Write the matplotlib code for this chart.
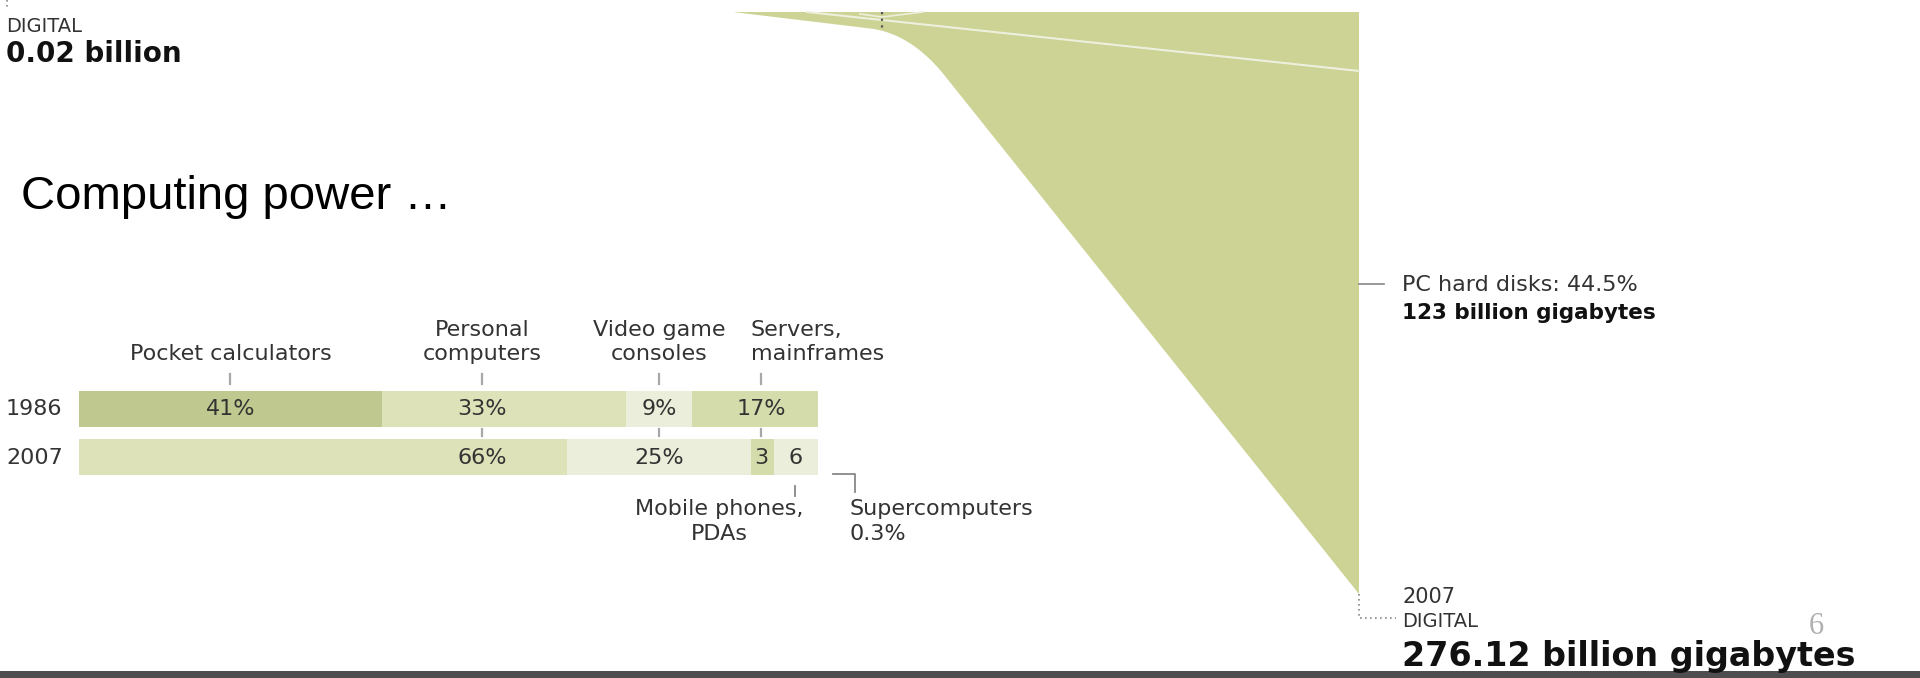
import numpy as np
import matplotlib
matplotlib.use("Agg")
import matplotlib.pyplot as plt
from matplotlib.patches import Polygon, Rectangle

# ---------------- data ----------------
years = ["1986", "2007"]
categories = ["Pocket calculators", "Personal computers", "Video game consoles",
              "Servers, mainframes", "Mobile phones, PDAs", "Supercomputers"]
share_1986 = [41, 33, 9, 17, 0, 0]
share_2007 = [0, 66, 25, 3, 6, 0.3]
seg_labels_1986 = ["41%", "33%", "9%", "17%", "", ""]
seg_labels_2007 = ["", "66%", "25%", "3", "6", ""]
label_pos = [20.5, 54.5, 78.5, 92.3, 96.9, 100.5]   # column of each category label (% of bar)
seg_colors = ["#bfc98f", "#dde2b8", "#ebeeda", "#d5dcab", "#ebeeda", "#d5dcab"]

digital_1986 = "0.02 billion"
digital_2007 = "276.12 billion gigabytes"
pc_disk_share = "PC hard disks: 44.5%"
pc_disk_value = "123 billion gigabytes"
title = "Computing power \u2026"
page_number = "6"

# flow band (tail of the storage flow diagram), in canvas pixels
flow_top_y = 12
flow_left_x = 733
flow_right_x = 1359
flow_bottom_y = 594
flow_bend = [(870, 28.5), (911, 33.4), (945, 76)]   # start, control, end of bend

W, H = 1920, 678
GFONT = "DejaVu Sans"
TCOL = "#333333"
BCOL = "#111111"
TICKC = "#a8a8a8"

fig = plt.figure(figsize=(W / 100, H / 100), dpi=100)
fig.patch.set_facecolor("white")

# ---------- overlay axes in pixel coordinates ----------
ax0 = fig.add_axes([0, 0, 1, 1])
ax0.set_xlim(0, W)
ax0.set_ylim(H, 0)
ax0.axis("off")

# flow band shape
t = np.linspace(0, 1, 40)
(p0x, p0y), (p1x, p1y), (p2x, p2y) = flow_bend
bx = (1 - t) ** 2 * p0x + 2 * (1 - t) * t * p1x + t ** 2 * p2x
by = (1 - t) ** 2 * p0y + 2 * (1 - t) * t * p1y + t ** 2 * p2y
outline = [(flow_left_x, flow_top_y), (flow_right_x, flow_top_y),
           (flow_right_x, flow_bottom_y)]
outline += list(zip(bx[::-1], by[::-1]))
ax0.add_patch(Polygon(outline, closed=True, facecolor="#ccd394", edgecolor="none"))
# thin white separators inside band
ax0.plot([807, flow_right_x], [flow_top_y, 71], color="#eef0de", lw=1.5)
ax0.plot([860, 882, 923], [14, 17, flow_top_y], color="#eef0de", lw=1.2)
# dotted markers
ax0.plot([882, 882], [flow_top_y, 30], color="#555555", lw=1.6, ls=(0, (1, 2)))
ax0.plot([7, 7], [0, 10], color="#888888", lw=1.2, ls=(0, (1, 2)))
ax0.plot([flow_right_x, flow_right_x, 1396], [flow_bottom_y, 618, 618],
         color="#888888", lw=1.2, ls=(0, (1, 2)))
# PC hard disks pointer
ax0.plot([flow_right_x, 1384], [284, 284], color="#888888", lw=1.2)

# texts (pixel coords)
ax0.text(6, 32, "DIGITAL", fontsize=14, family=GFONT, color=TCOL, va="baseline")
ax0.text(6, 62, digital_1986, fontsize=20, family=GFONT, weight="bold", color=BCOL, va="baseline")
ax0.text(21, 209, title, fontsize=34, family="Liberation Sans", color="black", va="baseline")
ax0.text(1402, 291, pc_disk_share, fontsize=16, family=GFONT, color=TCOL, va="baseline")
ax0.text(1402, 319, pc_disk_value, fontsize=15.5, family=GFONT, weight="bold", color=BCOL, va="baseline")
ax0.text(1402, 603, "2007", fontsize=15, family=GFONT, color=TCOL, va="baseline")
ax0.text(1402, 627, "DIGITAL", fontsize=14, family=GFONT, color=TCOL, va="baseline")
ax0.text(1402, 666, digital_2007, fontsize=24, family=GFONT, weight="bold", color=BCOL, va="baseline")
ax0.text(1816, 634, page_number, fontsize=22, family="Liberation Serif", color="#b0b0b0",
         ha="center", va="baseline")
# bottom slide band
ax0.add_patch(Rectangle((0, 671), W, 7, facecolor="#4e4e50", edgecolor="none"))

# ---------- bar chart axes ----------
bar_left_px, bar_right_px = 79, 818
c1986_px, step_px = 408.5, 48.5
top_px, bot_px = 380, 484
axb = fig.add_axes([bar_left_px / W, 1 - bot_px / H,
                    (bar_right_px - bar_left_px) / W, (bot_px - top_px) / H])
axb.set_xlim(0, 100)
axb.set_ylim((bot_px - c1986_px) / step_px, (top_px - c1986_px) / step_px)
axb.axis("off")
axb.patch.set_alpha(0)

def py(px):
    return (px - c1986_px) / step_px

ypos = np.arange(len(years))
for yi, (shares, labels) in enumerate([(share_1986, seg_labels_1986),
                                       (share_2007, seg_labels_2007)]):
    lefts = np.concatenate([[0], np.cumsum(shares)[:-1]])
    axb.barh(ypos[yi], shares, left=lefts, height=36 / step_px,
             color=seg_colors, edgecolor="none", linewidth=0)
    for ci, lab in enumerate(labels):
        if lab:
            axb.text(label_pos[ci], yi + 0.14, lab, fontsize=16, family=GFONT,
                     color=TCOL, ha="center", va="baseline")
    axb.text(-9.88, yi + 0.14, years[yi], fontsize=16, family=GFONT,
             color=TCOL, ha="left", va="baseline", clip_on=False)

# category labels above
row1, row2 = py(336.5), py(360)
axb.text(label_pos[0], row2, "Pocket calculators", fontsize=16, family=GFONT, color=TCOL,
         ha="center", va="baseline")
axb.text(label_pos[1], row1, "Personal", fontsize=16, family=GFONT, color=TCOL, ha="center", va="baseline")
axb.text(label_pos[1], row2, "computers", fontsize=16, family=GFONT, color=TCOL, ha="center", va="baseline")
axb.text(label_pos[2], row1, "Video game", fontsize=16, family=GFONT, color=TCOL, ha="center", va="baseline")
axb.text(label_pos[2], row2, "consoles", fontsize=16, family=GFONT, color=TCOL, ha="center", va="baseline")
axb.text(90.9, row1, "Servers,", fontsize=16, family=GFONT, color=TCOL, ha="left", va="baseline")
axb.text(90.9, row2, "mainframes", fontsize=16, family=GFONT, color=TCOL, ha="left", va="baseline")

# ticks
for x in label_pos[:4]:
    axb.plot([x, x], [py(374), py(384)], color=TICKC, lw=1.6, clip_on=False)
for x in label_pos[1:4]:
    axb.plot([x, x], [py(429), py(436)], color=TICKC, lw=1.6, clip_on=False)
axb.plot([label_pos[4]] * 2, [py(486), py(496)], color="#888888", lw=1.3, clip_on=False)
axb.plot([102.0, 105.0, 105.0], [py(474), py(474), py(492)], color="#888888", lw=1.3, clip_on=False)

# labels below
brow1, brow2 = py(515), py(540)
axb.text(86.6, brow1, "Mobile phones,", fontsize=16, family=GFONT, color=TCOL, ha="center", va="baseline")
axb.text(86.6, brow2, "PDAs", fontsize=16, family=GFONT, color=TCOL, ha="center", va="baseline")
axb.text(104.2, brow1, "Supercomputers", fontsize=16, family=GFONT, color=TCOL, ha="left", va="baseline")
axb.text(104.2, brow2, "0.3%", fontsize=16, family=GFONT, color=TCOL, ha="left", va="baseline")

fig.savefig("out.png", dpi=100, facecolor="white")
